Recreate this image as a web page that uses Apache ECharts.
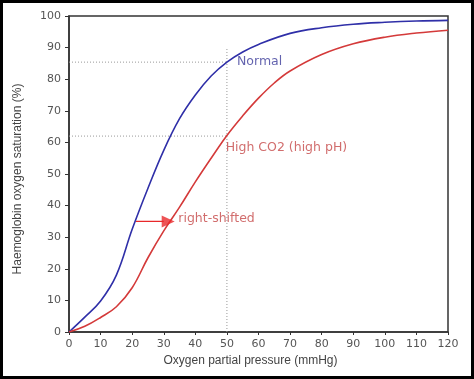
<!DOCTYPE html>
<html>
<head>
<meta charset="utf-8">
<script src="https://cdn.jsdelivr.net/npm/echarts@6/dist/echarts.min.js"></script>
<style>
html,body{margin:0;padding:0;background:#fff;}
#chart{width:474px;height:379px;}
</style>
</head>
<body>
<div id="chart"></div>
<script>
// Data
var normalPressure = [0, 5, 10, 15, 20, 25, 30, 35, 40, 45, 50, 55, 60, 70, 80, 90, 100, 110, 120];
var normalSaturation = [0, 4.7, 9.8, 18, 32.5, 45.5, 57.5, 67.5, 75, 81, 85.4, 88.6, 91, 94.5, 96.3, 97.4, 98, 98.4, 98.6];
var highCO2Pressure = [0, 5, 10, 15, 20, 25, 30, 35, 40, 45, 50, 55, 60, 65, 70, 80, 90, 100, 110, 120];
var highCO2Saturation = [0, 1.8, 4.6, 8, 14, 23.5, 32, 39.5, 47.5, 55, 62.2, 68.4, 74, 78.8, 82.6, 87.8, 91.2, 93.3, 94.6, 95.5];
var xTicks = [0, 10, 20, 30, 40, 50, 60, 70, 80, 90, 100, 110, 120];
var yTicks = [0, 10, 20, 30, 40, 50, 60, 70, 80, 90, 100];
var guideH1 = [[0, 85.4], [50, 85.4]];
var guideH2 = [[0, 62], [50, 62]];
var guideV = [[50, 0], [50, 90]];
var arrowShaft = [[21.2, 35], [30.0, 35]];
var arrowHead = [[31.4, 35]];
var labelNormal = [53.2, 85.4, 'Normal'];
var labelHigh = [49.6, 58.2, 'High CO2 (high pH)'];
var labelShift = [34.6, 35.7, 'right-shifted'];

function zip(a, b) { return a.map(function (v, i) { return [v, b[i]]; }); }

var chart = echarts.init(document.getElementById('chart'));
var guideStyle = { color: '#999', width: 1, type: [1, 2] };
var option = {
  animation: false,
  backgroundColor: '#fff',
  grid: { left: 69, right: 26, top: 16, bottom: 47, show: true, borderColor: '#333', borderWidth: 1.5, backgroundColor: 'transparent' },
  xAxis: {
    type: 'value', min: 0, max: 120, interval: 10,
    name: 'Oxygen partial pressure (mmHg)', nameLocation: 'middle', nameGap: 21,
    nameTextStyle: { fontFamily: 'Liberation Sans', fontSize: 12, color: '#444', padding: [0, 16, 0, 0] },
    axisLine: { lineStyle: { color: '#333', width: 1.5 } },
    axisTick: { show: true, length: 3, lineStyle: { color: '#333' } },
    axisLabel: { fontFamily: 'DejaVu Sans', fontSize: 11, color: '#555', margin: 7,
      formatter: function (v) { return xTicks.indexOf(v) >= 0 ? String(v) : ''; } },
    splitLine: { show: false }
  },
  yAxis: {
    type: 'value', min: 0, max: 100, interval: 10,
    name: 'Haemoglobin oxygen saturation (%)', nameLocation: 'middle', nameGap: 45, nameRotate: 90,
    nameTextStyle: { fontFamily: 'Liberation Sans', fontSize: 12, color: '#444', padding: [0, 10, 0, 0] },
    axisLine: { lineStyle: { color: '#333', width: 1.5 } },
    axisTick: { show: true, length: 4, lineStyle: { color: '#333' } },
    axisLabel: { fontFamily: 'DejaVu Sans', fontSize: 11, color: '#555', margin: 8,
      formatter: function (v) { return yTicks.indexOf(v) >= 0 ? String(v) : ''; } },
    splitLine: { show: false }
  },
  series: [
    { type: 'line', data: guideH1, symbol: 'none', lineStyle: guideStyle, silent: true, z: 1 },
    { type: 'line', data: guideH2, symbol: 'none', lineStyle: guideStyle, silent: true, z: 1 },
    { type: 'line', data: guideV, symbol: 'none', lineStyle: guideStyle, silent: true, z: 1 },
    { name: 'Normal', type: 'line', data: zip(normalPressure, normalSaturation), symbol: 'none',
      smooth: 0.4, lineStyle: { color: '#2f2fa8', width: 1.6 }, z: 3 },
    { name: 'High CO2', type: 'line', data: zip(highCO2Pressure, highCO2Saturation), symbol: 'none',
      smooth: 0.4, lineStyle: { color: '#d43a3a', width: 1.6 }, z: 3 },
    { type: 'line', data: arrowShaft, symbol: 'none', silent: true, z: 4,
      lineStyle: { color: '#e8282a', width: 1.4 } },
    { type: 'scatter', data: arrowHead, symbol: 'triangle', symbolSize: [12, 13], symbolRotate: -90,
      itemStyle: { color: '#e8282a' }, silent: true, z: 4 },
    { type: 'scatter', symbolSize: 0, silent: true, z: 5,
      data: [labelNormal],
      label: { show: true, position: 'right', distance: 0, formatter: function (p) { return p.data[2]; },
        fontFamily: 'DejaVu Sans', fontSize: 12.5, color: '#3c3c9a' } },
    { type: 'scatter', symbolSize: 0, silent: true, z: 5,
      data: [labelHigh, labelShift],
      label: { show: true, position: 'right', distance: 0, formatter: function (p) { return p.data[2]; },
        fontFamily: 'DejaVu Sans', fontSize: 12.5, color: '#c54848' } }
  ],
  graphic: [
    { type: 'rect', shape: { x: 1.5, y: 1.5, width: 471, height: 376 },
      style: { fill: 'none', stroke: '#000', lineWidth: 3 }, z: 100 }
  ]
};
chart.setOption(option);
</script>
</body>
</html>
